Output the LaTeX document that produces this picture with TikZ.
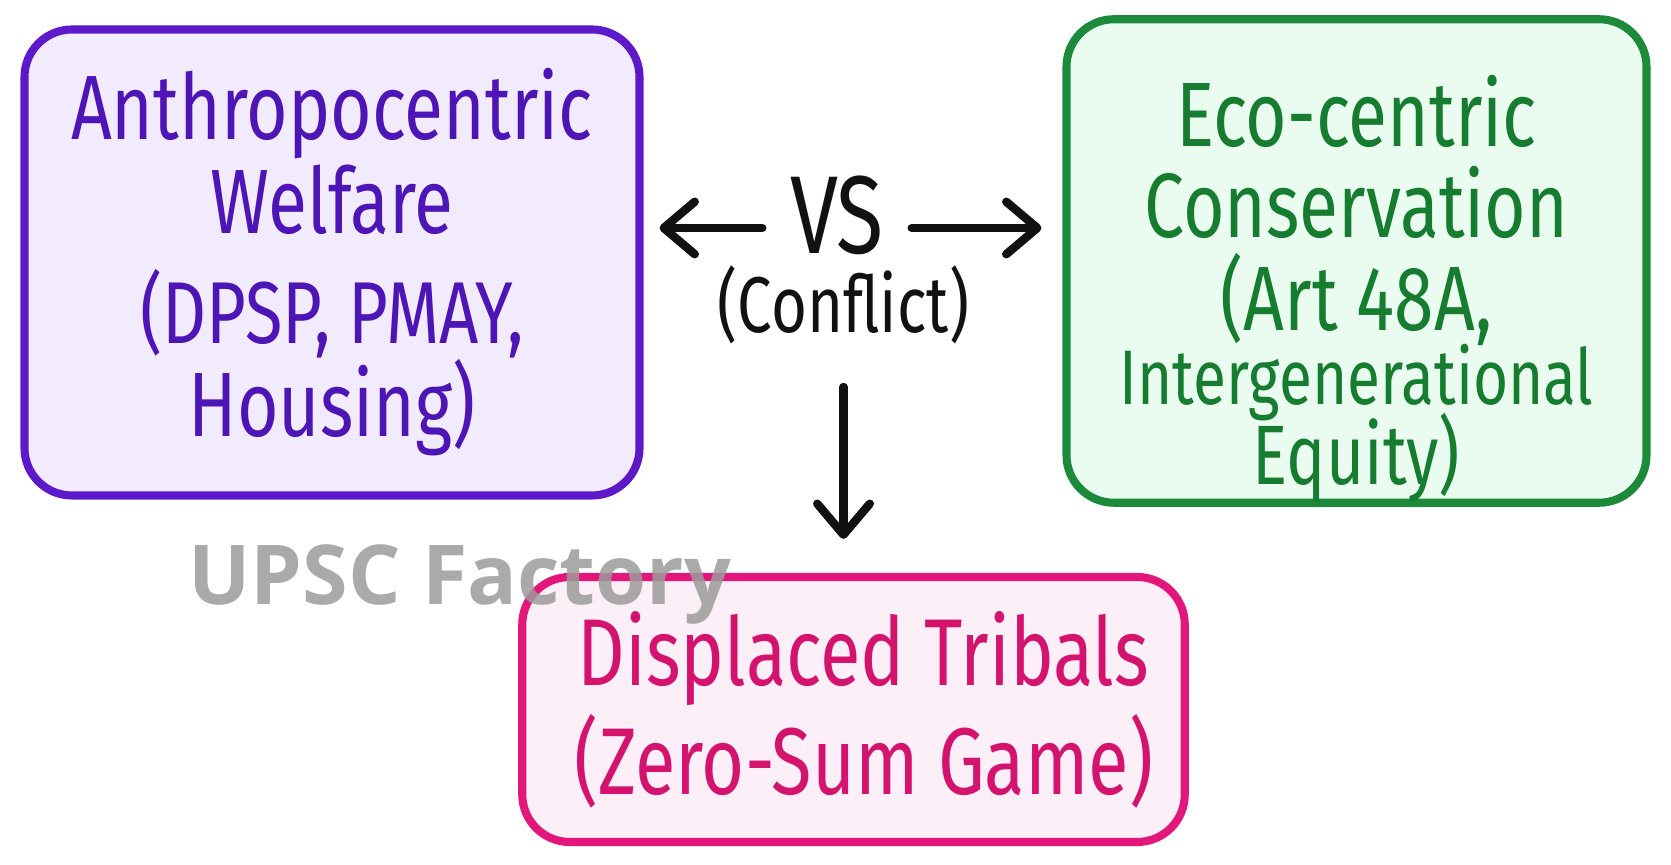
\documentclass[tikz,border=0pt]{standalone}
\usepackage{fontspec}
\newfontfamily\handfont{Fira Sans}[FakeStretch=0.78]
\newfontfamily\markfont{Open Sans}
\usepackage{xcolor}
\usetikzlibrary{arrows.meta, positioning}

\definecolor{welfareline}{HTML}{5C18C9}
\definecolor{welfarefill}{HTML}{F1EBFD}
\definecolor{welfaretext}{HTML}{4E15B6}
\definecolor{ecoline}{HTML}{1D8A3B}
\definecolor{ecofill}{HTML}{EAFBEF}
\definecolor{ecotext}{HTML}{167C30}
\definecolor{tribeline}{HTML}{E2167B}
\definecolor{tribefill}{HTML}{FDEFF7}
\definecolor{tribetext}{HTML}{D4136E}
\definecolor{ink}{HTML}{111111}
\definecolor{markgray}{HTML}{9B9B9B}

\begin{document}
\begin{tikzpicture}[> = {Straight Barb[length=0.62cm, width=1.05cm, round]},
		box/.style = {draw, line width=4.6pt, rounded corners=0.95cm, align=center, inner sep=0pt},
		arr/.style = {->, ink, line width=4.8pt, line cap=round}]
	\useasboundingbox (0,0) rectangle (33.42,17.3);
	%
	\node[box, draw=welfareline, fill=welfarefill, text=welfaretext,
		minimum width=12.3cm, minimum height=9.32cm,
		font=\handfont\fontsize{52}{53}\selectfont] (welfare) at (6.64,12.05)
		{Anthropocentric\\ Welfare\\[0.35cm]
		\fontsize{50}{45}\selectfont (DPSP, PMAY,\\ Housing)};
	\node[box, draw=ecoline, fill=ecofill, text=ecotext,
		minimum width=11.6cm, minimum height=9.5cm,
		font=\handfont\fontsize{52}{53}\selectfont] (eco) at (27.13,12.08)
		{\rule{0pt}{2.55cm}Eco-centric\\[-0.05cm] Conservation\\
		\fontsize{52}{40}\selectfont (Art 48A,\\[-0.38cm]
		\fontsize{44}{40}\selectfont Intergenerational\\[-0.26cm]
		\fontsize{48}{40}\selectfont Equity)};
	\node[box, draw=tribeline, fill=tribefill, text=tribetext,
		minimum width=13.25cm, minimum height=5.3cm,
		font=\handfont\fontsize{54}{62}\selectfont] (tribals) at (17.07,3.11)
		{\hspace{0.4cm}Displaced Tribals\\ \hspace{0.4cm}(Zero-Sum Game)};
	%
	\node[text=ink, inner sep=0pt, font=\handfont\fontsize{63}{63}\selectfont] (vs) at (16.74,13.0) {VS};
	\node[text=ink, inner sep=0pt, font=\handfont\fontsize{45}{45}\selectfont] (conflict) at (16.87,11.2) {(Conflict)};
	
	\draw[arr, shorten <=0.55cm, shorten >=0.32cm] ([yshift=-0.26cm]vs.west) -- ([yshift=-0.26cm]vs.west -| welfare.east);
	\draw[arr, shorten <=0.55cm, shorten >=0.42cm] ([yshift=-0.26cm]vs.east) -- ([yshift=-0.26cm]vs.east -| eco.west);
	\draw[arr, shorten <=0.85cm, shorten >=0.68cm] (conflict.south) -- (conflict.south |- tribals.north);
	
	\node[anchor=base west, inner sep=0pt, text=markgray, opacity=0.85,
		font=\markfont\bfseries\fontsize{47}{47}\selectfont] (mark) at (3.76,5.2) {UPSC Factory};
\end{tikzpicture}
\end{document}
